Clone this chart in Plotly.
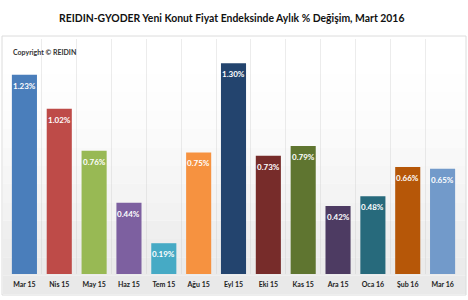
import plotly.graph_objects as go

categories = ["Mar 15", "Nis 15", "May 15", "Haz 15", "Tem 15", "Ağu 15", "Eyl 15",
              "Eki 15", "Kas 15", "Ara 15", "Oca 16", "Şub 16", "Mar 16"]
values = [1.23, 1.02, 0.76, 0.44, 0.19, 0.75, 1.30, 0.73, 0.79, 0.42, 0.48, 0.66, 0.65]
labels = ["1.23%", "1.02%", "0.76%", "0.44%", "0.19%", "0.75%", "1.30%",
          "0.73%", "0.79%", "0.42%", "0.48%", "0.66%", "0.65%"]
colors = ["#4A7EBB", "#BE4B48", "#98B954", "#7D60A0", "#46AAC5", "#F69240", "#23446E",
          "#772C2A", "#5F7530", "#4D3B62", "#276A7C", "#B65708", "#729ACA"]

W, H = 468, 300
L, R, T, B = 7, 8, 39, 26
pw, ph = W - L - R, H - T - B

def px(x):
    return (x - L) / pw

def py(y):
    return (H - B - y) / ph

FONT = "Lato"

fig = go.Figure(go.Bar(
    x=categories, y=values, marker=dict(color=colors, line=dict(width=0)),
    cliponaxis=False, width=0.72, hoverinfo="x+y",
))

shapes = []
top, bot = 37, 294
n = 14
for i in range(n):
    y0 = top + (bot - top) * i / n
    y1 = top + (bot - top) * (i + 1) / n
    t = i / (n - 1)
    g = int(255 - 22 * max(0, (t - 0.15) / 0.85) ** 1.2)
    shapes.append(dict(type="rect", xref="paper", yref="paper", layer="below",
                       x0=px(3), x1=px(466), y0=py(y1), y1=py(y0),
                       fillcolor=f"rgb({g},{g},{g})", line=dict(width=0)))
shapes.append(dict(type="rect", xref="paper", yref="paper", layer="above",
                   x0=px(2), x1=px(466), y0=py(295), y1=py(36),
                   line=dict(color="#dcdcdc", width=1), fillcolor="rgba(0,0,0,0)"))

annotations = [
    dict(text=f"<b>{lab}</b>", x=c, y=v, xref="x", yref="y", showarrow=False,
         yanchor="middle", yshift=-11, font=dict(family=FONT, size=8, color="white"))
    for c, v, lab in zip(categories, values, labels)
]
annotations += [
    dict(text="<b>REIDIN-GYODER Yeni Konut Fiyat Endeksinde Aylık % Değişim, Mart 2016</b>",
         xref="paper", yref="paper", x=px(231), y=py(18), showarrow=False,
         xanchor="center", yanchor="middle",
         font=dict(family=FONT, size=10.4, color="#111111")),
    dict(text="<b>Copyright © REIDIN</b>", xref="paper", yref="paper",
         x=px(11), y=py(52), showarrow=False, xanchor="left", yanchor="middle",
         font=dict(family=FONT, size=7, color="#333333")),
]

fig.update_layout(
    width=W, height=H, margin=dict(l=L, r=R, t=T, b=B),
    paper_bgcolor="white", plot_bgcolor="rgba(0,0,0,0)",
    showlegend=False, bargap=0.28,
    shapes=shapes, annotations=annotations,
    xaxis=dict(showgrid=True, gridcolor="rgba(200,200,200,0.35)", tickson="boundaries",
               ticks="", showline=False, zeroline=False, ticklabelstandoff=5,
               tickfont=dict(family=FONT, size=7, color="#222222", weight="bold"),
               fixedrange=True),
    yaxis=dict(range=[0, 1.45], visible=False, showgrid=False),
)

fig.write_html("out.html")
